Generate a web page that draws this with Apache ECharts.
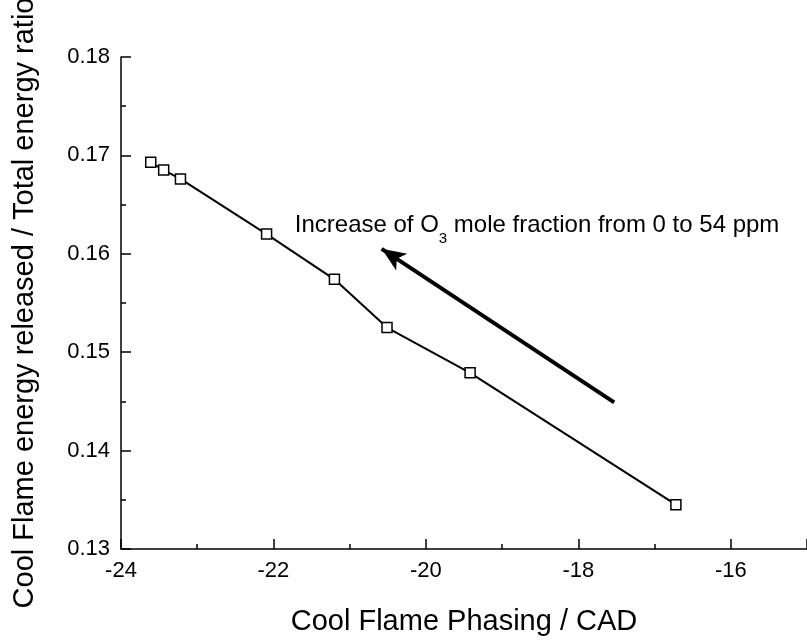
<!DOCTYPE html>
<html>
<head>
<meta charset="utf-8">
<script src="https://cdn.jsdelivr.net/npm/echarts@6/dist/echarts.min.js"></script>
<style>
html,body{margin:0;padding:0;background:#fff;}
#chart{width:807px;height:641px;}
</style>
</head>
<body>
<div id="chart"></div>
<script>
// Data
const phasing = [-23.61, -23.44, -23.22, -22.09, -21.20, -20.51, -19.42, -16.72];
const energyRatio = [0.1693, 0.1685, 0.1676, 0.1620, 0.1574, 0.1525, 0.1479, 0.1345];
const xTicks = [-24, -22, -20, -18, -16];
const yTicks = [0.13, 0.14, 0.15, 0.16, 0.17, 0.18];
const arrowStart = [-17.53, 0.1449];
const arrowEnd = [-20.58, 0.1605];
const annotationAnchor = [-21.72, 0.1626];
const xTitle = 'Cool Flame Phasing / CAD';
const yTitle = 'Cool Flame energy released / Total energy ratio';

const FONT = 'Arial, "Liberation Sans", sans-serif';
const chart = echarts.init(document.getElementById('chart'));

const points = phasing.map((x, i) => [x, energyRatio[i]]);

chart.setOption({
  animation: false,
  backgroundColor: '#fff',
  grid: { left: 121, right: -7, top: 42, bottom: 81, containLabel: false },
  xAxis: {
    type: 'value',
    min: -24, max: -15, interval: 2,
    name: xTitle,
    nameLocation: 'middle',
    nameGap: 58,
    nameTextStyle: { fontFamily: FONT, fontSize: 29, color: '#000' },
    axisLine: { show: true, onZero: false, lineStyle: { color: '#000', width: 1.5 } },
    axisTick: { show: true, inside: true, length: 10, lineStyle: { color: '#000', width: 1.5 } },
    minorTick: { show: true, splitNumber: 2, length: 5, lineStyle: { color: '#000', width: 1.5 } },
    splitLine: { show: false },
    axisLabel: {
      fontFamily: FONT, fontSize: 22, color: '#000', margin: 11,
      showMaxLabel: false,
      formatter: v => xTicks.indexOf(v) >= 0 ? String(v) : ''
    }
  },
  yAxis: {
    type: 'value',
    min: 0.13, max: 0.18, interval: 0.01,
    name: yTitle,
    nameLocation: 'middle',
    nameGap: 82,
    nameTextStyle: { fontFamily: FONT, fontSize: 29, color: '#000' },
    axisLine: { show: true, onZero: false, lineStyle: { color: '#000', width: 1.5 } },
    axisTick: { show: true, inside: true, length: 10, lineStyle: { color: '#000', width: 1.5 } },
    minorTick: { show: true, splitNumber: 2, length: 5, lineStyle: { color: '#000', width: 1.5 } },
    splitLine: { show: false },
    axisLabel: {
      fontFamily: FONT, fontSize: 22, color: '#000', margin: 11,
      formatter: v => {
        const t = yTicks.find(y => Math.abs(y - v) < 1e-9);
        return t !== undefined ? t.toFixed(2) : '';
      }
    }
  },
  series: [{
    type: 'line',
    data: points,
    symbol: 'rect',
    symbolSize: 10,
    showAllSymbol: true,
    lineStyle: { color: '#000', width: 2 },
    itemStyle: { color: '#fff', borderColor: '#000', borderWidth: 1.5 },
    z: 3,
    markLine: {
      silent: true,
      symbol: ['none', 'arrow'],
      symbolSize: [15, 24],
      label: { show: false },
      lineStyle: { color: '#000', width: 4, type: 'solid' },
      data: [[{ coord: arrowStart }, { coord: arrowEnd }]]
    }
  }]
});

const anchor = chart.convertToPixel({ gridIndex: 0 }, annotationAnchor);
chart.setOption({
  graphic: [{
    type: 'text',
    left: anchor[0],
    top: anchor[1] - 15,
    style: {
      text: '{a|Increase of O}{s|3}{a| mole fraction from 0 to 54 ppm}',
      rich: {
        a: { fontFamily: FONT, fontSize: 24, fill: '#000', lineHeight: 30, verticalAlign: 'bottom' },
        s: { fontFamily: FONT, fontSize: 15, fill: '#000', lineHeight: 30, verticalAlign: 'bottom', padding: [0, 0, -9, 0] }
      }
    }
  }]
});
</script>
</body>
</html>
